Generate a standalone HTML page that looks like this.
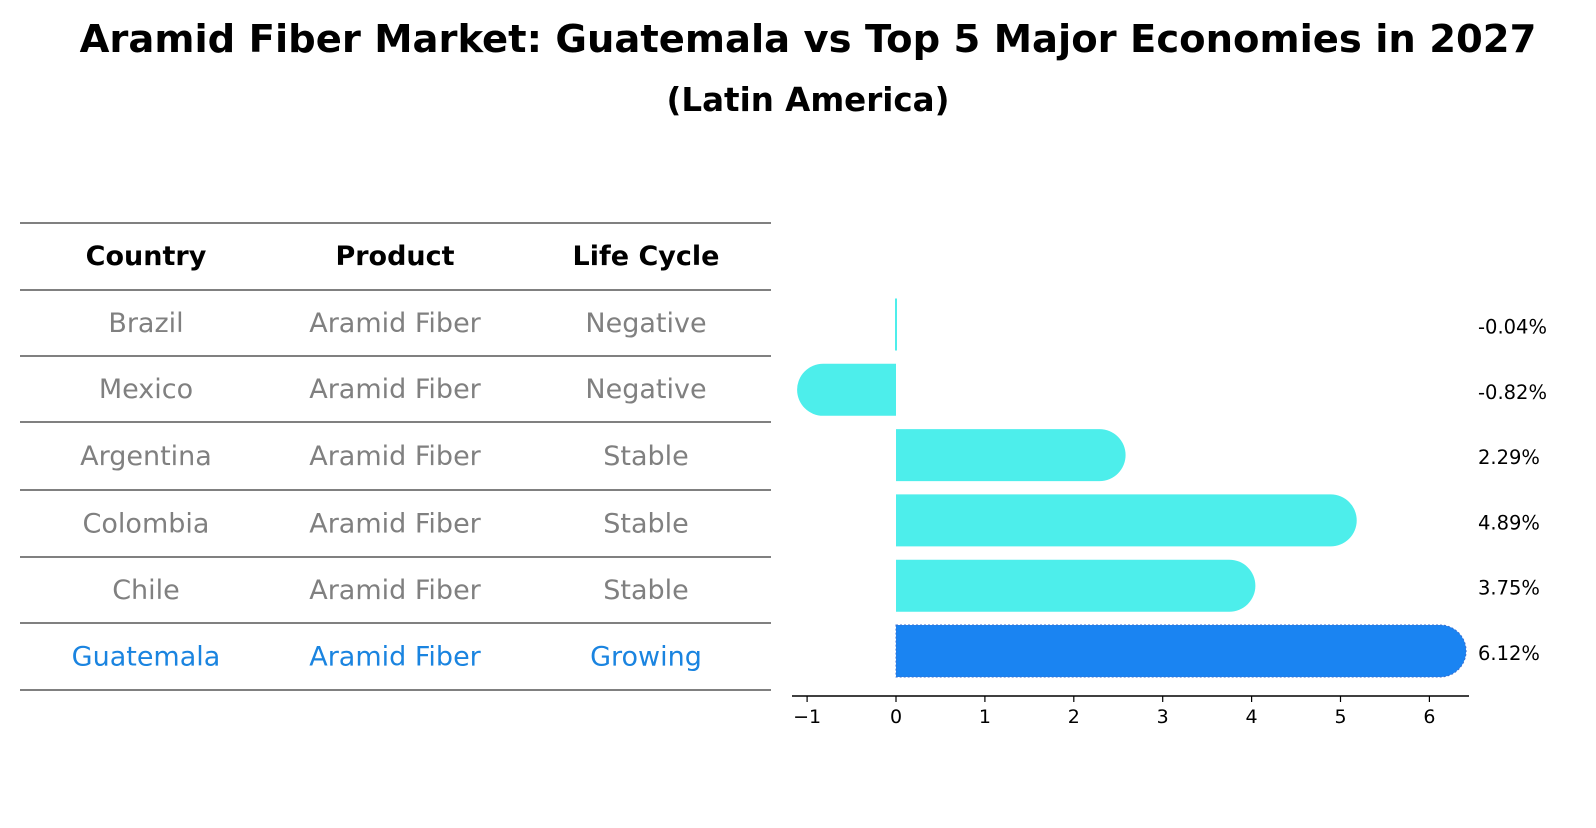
<!DOCTYPE html>
<html><head><meta charset="utf-8"><style>
body{margin:0;background:#fff;font-family:"Liberation Sans","DejaVu Sans",sans-serif;}
svg text{font-family:"DejaVu Sans","Liberation Sans",sans-serif;}
</style></head><body>
<svg id="chart" width="1596" height="823" viewBox="0 0 1596 823" xmlns="http://www.w3.org/2000/svg">
<rect width="1596" height="823" fill="#fff"/>
<text x="808" y="52" text-anchor="middle" font-size="38.5" font-weight="bold">Aramid Fiber Market: Guatemala vs Top 5 Major Economies in 2027</text>
<text x="808" y="111" text-anchor="middle" font-size="32.5" font-weight="bold">(Latin America)</text>
<g id="table"></g>
<g id="bars"></g>
</svg>
<script>
const countries=["Brazil","Mexico","Argentina","Colombia","Chile","Guatemala"];
const products=["Aramid Fiber","Aramid Fiber","Aramid Fiber","Aramid Fiber","Aramid Fiber","Aramid Fiber"];
const lifeCycles=["Negative","Negative","Stable","Stable","Stable","Growing"];
const growth=[-0.04,-0.82,2.29,4.89,3.75,6.12];
const labels=["-0.04%","-0.82%","2.29%","4.89%","3.75%","6.12%"];
const xTicks=[-1,0,1,2,3,4,5,6];

const NS="http://www.w3.org/2000/svg";
function mk(t,a,p){const e=document.createElementNS(NS,t);for(const k in a)e.setAttribute(k,a[k]);p.appendChild(e);return e;}
const tb=document.getElementById('table');
const lines=[223,290,356,422,490,557,623,690];
lines.forEach(y=>{const l=mk('line',{x1:20,x2:771,y1:y,y2:y,stroke:'#000','stroke-width':1},tb);

});
const colX=[146,395,646];
["Country","Product","Life Cycle"].forEach((h,i)=>{const t=mk('text',{x:colX[i],y:265,'text-anchor':'middle','font-size':27,'font-weight':'bold'},tb);t.textContent=h;

});
countries.forEach((c,r)=>{const y=(lines[r+1]+lines[r+2])/2+9;const col=r===countries.length-1?'#1a84e0':'#808080';
[c,products[r],lifeCycles[r]].forEach((v,i)=>{const t=mk('text',{x:colX[i],y:y,'text-anchor':'middle','font-size':27,fill:col},tb);t.textContent=v;

});});

const g=document.getElementById('bars');
const x0=896,unit=88.9,y0=324.5,step=65.3,bh=52;
const X=v=>x0+v*unit;const Y=i=>y0+i*step;
growth.forEach((v,i)=>{const last=i===growth.length-1;const col=last?'#1a84f2':'#4deeeb';
const cy=Y(i);const xe=X(v);const r=bh/2;
let d;
if(Math.abs(v)<0.1){d=`M${x0-1},${cy-r} L${x0+1},${cy-r} L${x0+1},${cy+r} L${x0-1},${cy+r}Z`;}
else if(v>0){d=`M${x0},${cy-r} L${xe},${cy-r} A${r},${r} 0 0 1 ${xe},${cy+r} L${x0},${cy+r}Z`;}
else{d=`M${x0},${cy-r} L${xe},${cy-r} A${r},${r} 0 0 0 ${xe},${cy+r} L${x0},${cy+r}Z`;}
const p=mk('path',{d:d,fill:col},g);
if(last){p.setAttribute('stroke','#3a6fd0');p.setAttribute('stroke-dasharray','2,2');p.setAttribute('stroke-width','1');}


const t=mk('text',{x:1478,y:cy+9,'font-size':19.5},g);t.textContent=labels[i];

});
const ax=mk('line',{x1:792,x2:1469,y1:696,y2:696,stroke:'#000','stroke-width':1.5},g);


xTicks.forEach(v=>{const tk=mk('line',{x1:X(v),x2:X(v),y1:696,y2:702,stroke:'#000','stroke-width':1.2},g);


const t=mk('text',{x:X(v),y:723,'text-anchor':'middle','font-size':19},g);t.textContent=v<0?'\u2212'+Math.abs(v):String(v);

});
</script>
</body></html>
